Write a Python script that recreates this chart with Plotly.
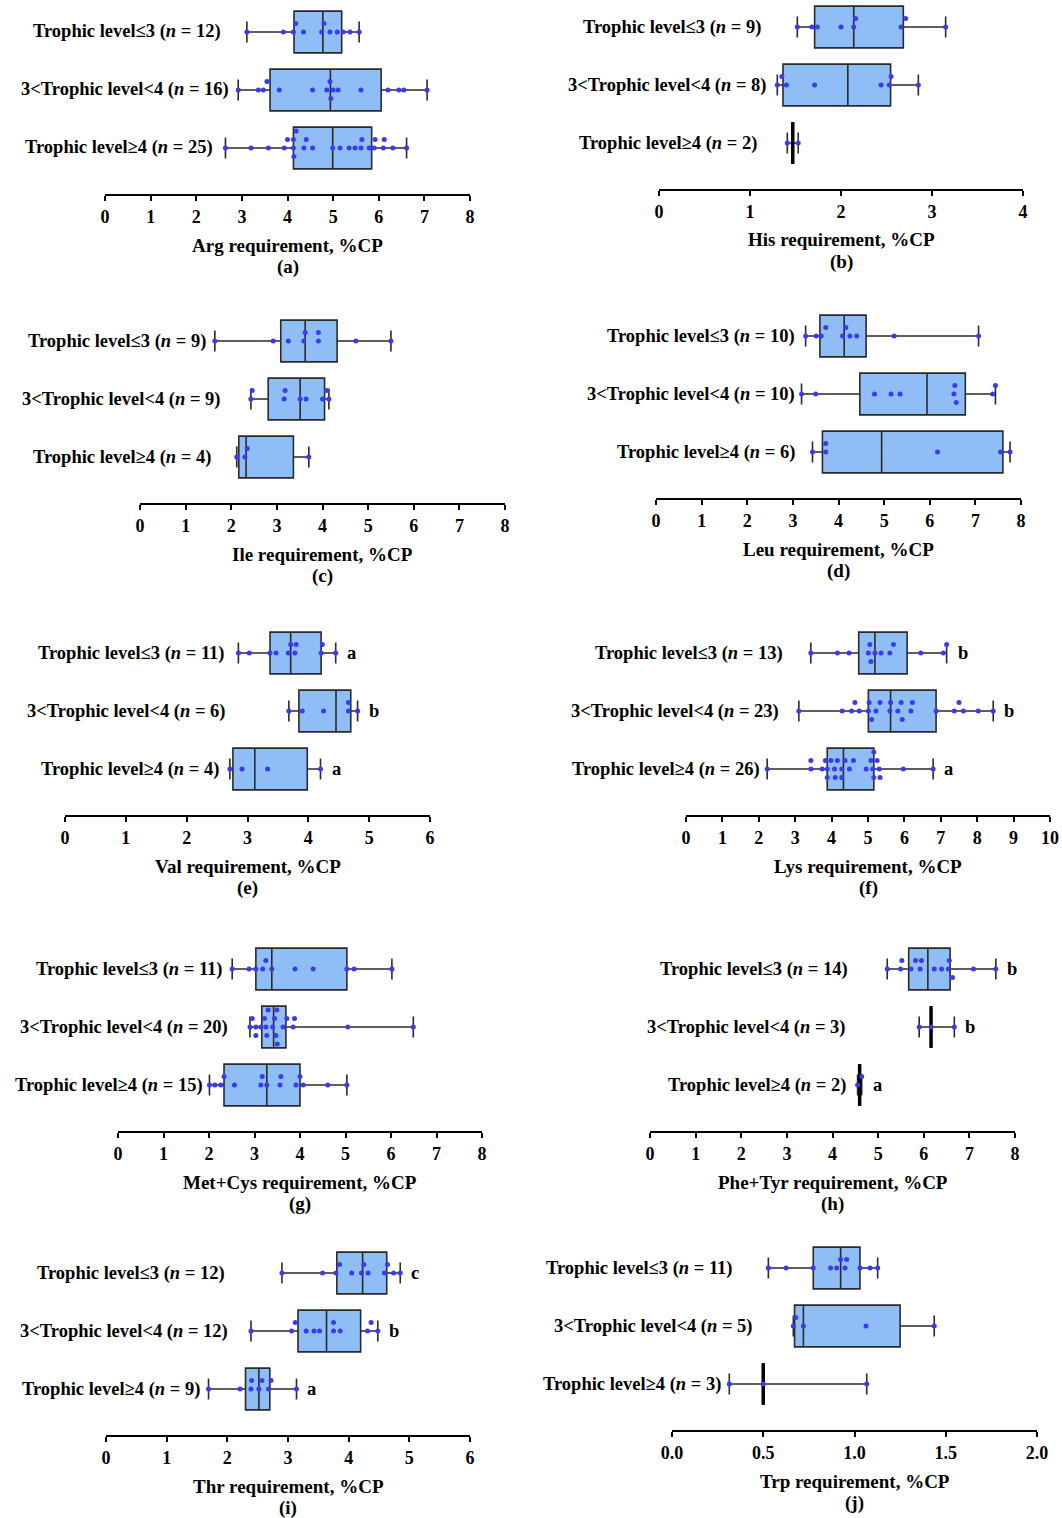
import numpy as np
import plotly.graph_objects as go

W, H = 1062, 1518

# ---------------- data ----------------
GROUP_NAMES = ["Trophic level≤3", "3<Trophic level<4", "Trophic level≥4"]

ARG = [[3.11, 3.91, 4.13, 4.18, 4.35, 4.75, 4.80, 4.93, 5.09, 5.22, 5.37, 5.57],
       [2.92, 3.36, 3.47, 3.55, 3.82, 4.55, 4.86, 4.93, 4.95, 5.00, 5.11, 5.61, 6.20, 6.44, 6.55, 7.06],
       [2.64, 3.20, 3.58, 3.93, 4.00, 4.13, 4.13, 4.14, 4.19, 4.36, 4.41, 4.55, 4.99, 5.15, 5.35,
        5.48, 5.61, 5.63, 5.79, 5.90, 5.92, 6.10, 6.12, 6.31, 6.61]]
HIS = [[1.52, 1.68, 1.74, 2.00, 2.14, 2.16, 2.66, 2.71, 3.15],
       [1.30, 1.35, 1.40, 1.71, 2.44, 2.53, 2.55, 2.85],
       [1.41, 1.53]]
ILE = [[1.64, 2.92, 3.25, 3.59, 3.62, 3.91, 3.91, 4.73, 5.50],
       [2.43, 2.46, 3.16, 3.18, 3.51, 3.64, 4.00, 4.09, 4.14],
       [2.12, 2.30, 2.35, 3.70]]
LEU = [[3.28, 3.51, 3.62, 3.72, 4.09, 4.16, 4.25, 4.40, 5.22, 7.07],
       [3.19, 3.50, 4.79, 5.15, 5.35, 6.53, 6.55, 6.58, 7.38, 7.44],
       [3.43, 3.72, 3.72, 6.17, 7.55, 7.76]]
VAL = [[2.85, 3.03, 3.37, 3.47, 3.67, 3.71, 3.78, 3.80, 4.21, 4.23, 4.45],
       [3.68, 3.90, 4.25, 4.66, 4.66, 4.81],
       [2.71, 2.91, 3.33, 4.20]]
LYS = [[3.43, 4.16, 4.48, 5.01, 5.05, 5.08, 5.19, 5.36, 5.60, 5.70, 6.45, 7.07, 7.16],
       [3.10, 4.29, 4.55, 4.64, 4.76, 5.01, 5.03, 5.10, 5.22, 5.33, 5.60, 5.62, 5.82, 5.91, 5.94,
        6.18, 6.22, 6.87, 7.37, 7.50, 7.62, 8.03, 8.44],
       [2.23, 3.43, 3.43, 3.74, 3.83, 3.88, 3.88, 3.98, 4.08, 4.10, 4.16, 4.28, 4.28, 4.37, 4.49,
        4.60, 4.95, 5.08, 5.13, 5.16, 5.16, 5.25, 5.31, 5.33, 5.97, 6.79]]
METCYS = [[2.51, 2.88, 3.03, 3.18, 3.25, 3.38, 3.89, 4.29, 5.03, 5.19, 6.02],
          [2.90, 2.95, 3.03, 3.03, 3.14, 3.22, 3.25, 3.27, 3.30, 3.40, 3.44, 3.47, 3.49, 3.50,
           3.63, 3.71, 3.85, 3.88, 5.05, 6.49],
          [2.01, 2.13, 2.26, 2.33, 2.56, 3.14, 3.17, 3.27, 3.56, 3.58, 3.91, 4.00, 4.07, 4.61, 5.03]]
PHETYR = [[5.20, 5.49, 5.52, 5.72, 5.82, 5.92, 5.95, 6.23, 6.39, 6.54, 6.56, 6.63, 7.09, 7.58],
          [5.90, 6.16, 6.67],
          [4.55, 4.64]]
THR = [[2.90, 3.57, 3.79, 3.85, 4.05, 4.21, 4.25, 4.32, 4.59, 4.64, 4.74, 4.85],
       [2.39, 3.06, 3.12, 3.30, 3.43, 3.52, 3.75, 3.75, 3.86, 4.31, 4.37, 4.48],
       [1.69, 2.21, 2.39, 2.40, 2.52, 2.57, 2.68, 2.72, 3.14]]
TRP = [[0.528, 0.625, 0.774, 0.869, 0.902, 0.924, 0.948, 0.957, 1.030, 1.085, 1.127],
       [0.665, 0.678, 0.720, 1.063, 1.437],
       [0.314, 0.500, 1.067]]

VAL_SIG = ["a", "b", "a"]
LYS_SIG = ["b", "b", "a"]
PHETYR_SIG = ["b", "b", "a"]
THR_SIG = ["c", "b", "a"]

TITLES = ["Arg requirement, %CP", "His requirement, %CP", "Ile requirement, %CP",
          "Leu requirement, %CP", "Val requirement, %CP", "Lys requirement, %CP",
          "Met+Cys requirement, %CP", "Phe+Tyr requirement, %CP",
          "Thr requirement, %CP", "Trp requirement, %CP"]
PANEL_TAGS = ["(a)", "(b)", "(c)", "(d)", "(e)", "(f)", "(g)", "(h)", "(i)", "(j)"]
DATASETS = [ARG, HIS, ILE, LEU, VAL, LYS, METCYS, PHETYR, THR, TRP]
SIGS = [None, None, None, None, VAL_SIG, LYS_SIG, None, PHETYR_SIG, THR_SIG, None]
X_MAX = [8, 4, 8, 8, 6, 10, 8, 8, 6, 2]
X_DTICK = [1, 1, 1, 1, 1, 1, 1, 1, 1, 0.5]
X_FORMAT = ["d", "d", "d", "d", "d", "d", "d", "d", "d", ".1f"]

# ---------------- layout constants (pixels) ----------------
PANEL_PX = [(105, 470, 194), (659, 1023, 189), (140, 505, 503), (656, 1021, 498),
            (65, 430, 815), (686, 1050, 815), (118, 482, 1131), (650, 1015, 1131),
            (106, 470, 1435), (672, 1037, 1430)]
LABEL_RIGHT = [(223, 231, 215), (763, 768, 759), (208, 222, 213), (797, 797, 797),
               (227, 227, 221), (785, 781, 762), (225, 230, 205), (850, 847, 848),
               (227, 230, 202), (735, 754, 723)]
ROW_PX = 58.0          # pixel distance between rows
PLOT_H = 185.0         # plot area height (px)
BOTTOM_PAD = 46.0      # px from axis line to the bottom row centre
BOX_W = 0.72
SLOT_STEP = 8.5 / ROW_PX
FONT = "Liberation Serif, Times New Roman, serif"
BOX_FILL = "#8FBEF6"
BOX_LINE = "#2a2a2a"
DOT = "#3a3af2"


def swarm(vals, px_per_unit, thresh=5.0):
    order = np.argsort(vals, kind="stable")
    slots = [0] * len(vals)
    placed = {}
    for i in order:
        p = vals[i] * px_per_unit
        chosen = 0
        for s in [0, 1, -1, 2, -2, 3, -3, 4, -4]:
            if all(abs(p - q) >= thresh for q in placed.get(s, [])):
                chosen = s
                break
        placed.setdefault(chosen, []).append(p)
        slots[i] = chosen
    return slots


fig = go.Figure()
annotations = []
layout_axes = {}

for k, (data, title, tag, sig, xmax, dtick, fmt, (x0, x1, ay), lab_r) in enumerate(
        zip(DATASETS, TITLES, PANEL_TAGS, SIGS, X_MAX, X_DTICK, X_FORMAT, PANEL_PX, LABEL_RIGHT), start=1):
    xa = "x" if k == 1 else f"x{k}"
    ya = "y" if k == 1 else f"y{k}"
    xkey = "xaxis" if k == 1 else f"xaxis{k}"
    ykey = "yaxis" if k == 1 else f"yaxis{k}"
    px_per_unit = (x1 - x0) / xmax

    for gi, vals in enumerate(data):
        pos = 2 - gi
        v = np.array(vals, dtype=float)
        q1, med, q3 = np.percentile(v, [25, 50, 75], method="weibull")
        small = len(v) < 4
        if small:      # GraphPad draws no box for very small groups, only a bold median
            q1 = q3 = med
        fig.add_trace(go.Box(
            y=[pos], q1=[q1], median=[med], q3=[q3],
            lowerfence=[v.min()], upperfence=[v.max()],
            orientation="h", width=BOX_W, whiskerwidth=0.5,
            fillcolor=BOX_FILL, line=dict(color=BOX_LINE, width=1.6),
            boxpoints=False, showlegend=False, hoverinfo="skip",
            xaxis=xa, yaxis=ya))
        if small:
            fig.add_trace(go.Scatter(
                x=[med, med], y=[pos - BOX_W / 2, pos + BOX_W / 2], mode="lines",
                line=dict(color="black", width=3.5), showlegend=False, hoverinfo="skip",
                xaxis=xa, yaxis=ya))
        slots = swarm(v, px_per_unit)
        fig.add_trace(go.Scatter(
            x=v, y=[pos + s * SLOT_STEP for s in slots], mode="markers",
            marker=dict(size=5, color=DOT), showlegend=False, hoverinfo="skip",
            cliponaxis=False, xaxis=xa, yaxis=ya))
        label = f"{GROUP_NAMES[gi]} (<i>n</i> = {len(v)})"
        annotations.append(dict(
            xref="paper", x=lab_r[gi] / W, xanchor="right",
            yref=ya, y=pos, yanchor="middle", text=label, showarrow=False,
            font=dict(family=FONT, size=18.5, color="black", weight="bold")))
        if sig is not None:
            annotations.append(dict(
                xref=xa, x=v.max(), xanchor="left", xshift=9,
                yref=ya, y=pos, yanchor="middle", text=sig[gi], showarrow=False,
                font=dict(family=FONT, size=18.5, color="black", weight="bold")))

    annotations.append(dict(
        xref=f"{xa} domain", x=0.5, xanchor="center",
        yref="paper", y=1 - (ay + 51) / H, yanchor="middle", text=title, showarrow=False,
        font=dict(family=FONT, size=19, color="black", weight="bold")))
    annotations.append(dict(
        xref=f"{xa} domain", x=0.5, xanchor="center",
        yref="paper", y=1 - (ay + 73) / H, yanchor="middle", text=tag, showarrow=False,
        font=dict(family=FONT, size=19, color="black", weight="bold")))

    top_px = max(0.0, ay - PLOT_H)
    ylo = -BOTTOM_PAD / ROW_PX
    layout_axes[xkey] = dict(
        domain=[x0 / W, x1 / W], range=[0, xmax], anchor=ya, automargin=False,
        dtick=dtick, tick0=0, tickformat=fmt,
        showline=True, linecolor="black", linewidth=2,
        ticks="outside", ticklen=5, tickwidth=2, tickcolor="black",
        showgrid=False, zeroline=False,
        tickfont=dict(family=FONT, size=18, color="black", weight="bold"))
    layout_axes[ykey] = dict(
        domain=[1 - ay / H, 1 - top_px / H], automargin=False,
        range=[ylo, ylo + (ay - top_px) / ROW_PX], anchor=xa,
        visible=False, showgrid=False, zeroline=False)

fig.update_layout(
    width=W, height=H, margin=dict(l=0, r=0, t=0, b=0, autoexpand=False),
    paper_bgcolor="white", plot_bgcolor="white",
    showlegend=False, annotations=annotations, **layout_axes)

fig.write_html("out.html", config={"responsive": False})
